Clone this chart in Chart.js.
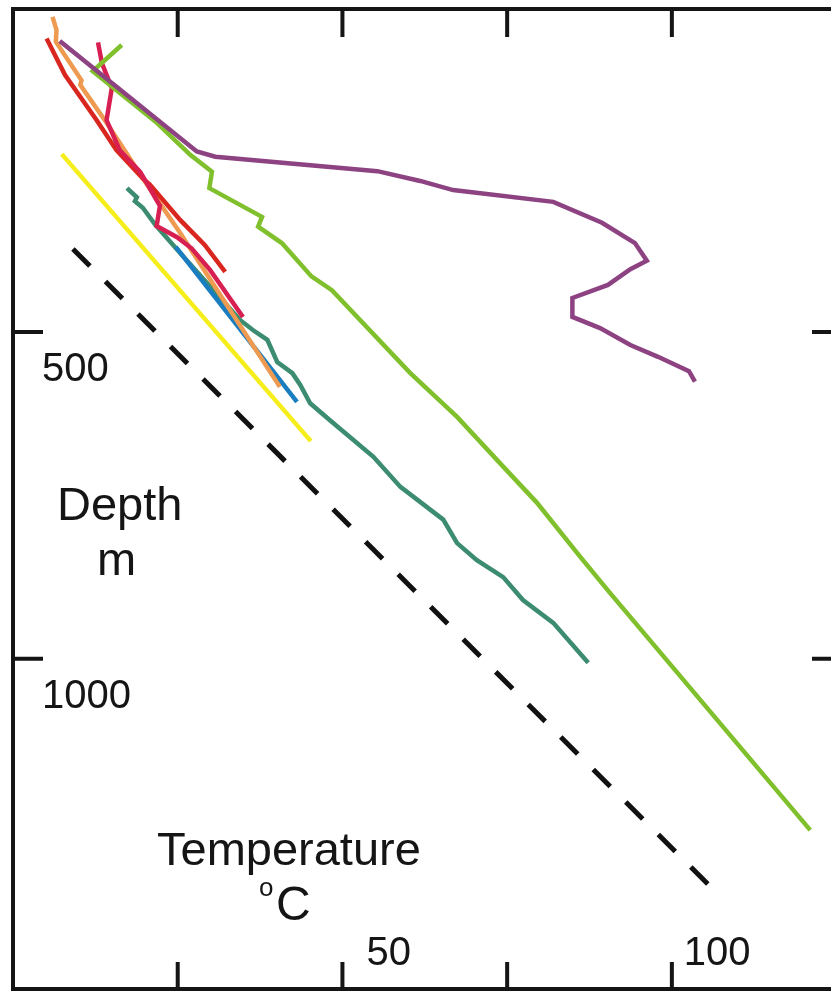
<!DOCTYPE html>
<html>
<head>
<meta charset="utf-8">
<script src="https://cdn.jsdelivr.net/npm/chart.js@4.4.1/dist/chart.umd.min.js"></script>
<style>
  html, body { margin: 0; padding: 0; background: #fff; overflow: hidden; }
  canvas { display: block; }
</style>
</head>
<body>
<canvas id="grafico" width="831" height="991"></canvas>
<script>
// PERFILES DE TEMPERATURA (°C) CONTRA PROFUNDIDAD (m)

const moradoT = [7.1, 27.9, 30.7, 55.3, 61.8, 66.8, 82.0, 89.4, 94.4, 96.2, 93.7, 90.3, 84.9, 84.9, 89.1, 93.7, 97.9, 102.6, 103.5]
const moradoD = [55, 224, 232, 254, 269, 283, 301, 333, 364, 391, 404, 428, 448, 477, 494, 520, 538, 560, 576]

const verdeT = [16.5, 12.1, 21.6, 26.9, 30.2, 29.8, 37.8, 37.2, 40.8, 45.3, 48.4, 60.3, 67.4, 74.4, 79.5, 86.1, 90.6, 121.0]
const verdeD = [61, 101, 178, 229, 255, 280, 324, 339, 364, 415, 436, 563, 630, 706, 761, 844, 899, 1262]

const carmesiT = [12.9, 13.5, 15.0, 14.2, 16.2, 19.3, 22.3, 21.8, 24.9, 27.1, 29.9, 34.9]
const carmesiD = [57, 89, 127, 176, 222, 255, 307, 338, 355, 372, 405, 477]

const rojoT = [5.1, 7.9, 12.7, 15.7, 19.7, 20.8, 25.4, 29.1, 32.2]
const rojoD = [51, 107, 176, 222, 265, 275, 329, 367, 408]

const naranjaT = [6.0, 6.6, 6.5, 10.4, 10.2, 14.2, 19.7, 25.4, 40.5]
const naranjaD = [18, 38, 56, 115, 122, 180, 265, 349, 584]

const azulT = [24.7, 43.1]
const azulD = [370, 607]

const turquesaT = [17.3, 18.8, 18.5, 19.7, 21.6, 25.0, 34.5, 36.4, 38.6, 40.1, 42.4, 43.6, 45.1, 48.1, 54.7, 58.8, 65.3, 67.4, 70.4, 74.4, 77.4, 82.0, 87.3]
const turquesaD = [280, 294, 300, 310, 336, 375, 482, 497, 512, 546, 563, 581, 609, 635, 691, 737, 787, 823, 849, 875, 910, 945, 1006]

const amarilloT = [7.4, 45.2]
const amarilloD = [228, 667]

const gradienteT = [9.1, 106.0]
const gradienteD = [373, 1350]

const ticksX = [25, 50, 75, 100]
const etiquetasX = ['', '50', '', '100']
const ticksY = [500, 1000]
const etiquetasY = ['500', '1000']

const puntos = (t, d) => t.map((x, i) => ({ x: x, y: d[i] }))

const serie = (t, d, color, extra) => Object.assign({
    data: puntos(t, d),
    borderColor: color,
    borderWidth: 4.5,
    showLine: true,
    pointRadius: 0,
    tension: 0,
    fill: false,
    clip: false
}, extra || {})

const fuente = '"Liberation Sans", Arial, sans-serif'

const marco = {
    id: 'marco',
    afterDraw(chart) {
        const ctx = chart.ctx
        const a = chart.chartArea
        const sx = chart.scales.x
        const sy = chart.scales.y
        ctx.save()
        ctx.strokeStyle = '#151515'
        ctx.lineWidth = 4
        ctx.beginPath()
        ctx.moveTo(a.left, chart.height)
        ctx.lineTo(a.left, a.top)
        ctx.lineTo(chart.width, a.top)
        ctx.moveTo(a.left - 2, a.bottom)
        ctx.lineTo(chart.width, a.bottom)
        ticksX.forEach(v => {
            const px = sx.getPixelForValue(v)
            ctx.moveTo(px, a.top)
            ctx.lineTo(px, a.top + 28)
            ctx.moveTo(px, a.bottom)
            ctx.lineTo(px, a.bottom - 27)
        })
        ticksY.forEach(v => {
            const py = sy.getPixelForValue(v)
            ctx.moveTo(a.left, py)
            ctx.lineTo(a.left + 30, py)
            ctx.moveTo(a.right - 18, py)
            ctx.lineTo(chart.width, py)
        })
        ctx.stroke()

        ctx.fillStyle = '#151515'
        ctx.textBaseline = 'alphabetic'
        ctx.textAlign = 'left'
        ctx.font = '40px ' + fuente
        const corrX = [0, 24, 0, 12]
        ticksX.forEach((v, i) => {
            if (etiquetasX[i]) ctx.fillText(etiquetasX[i], sx.getPixelForValue(v) + corrX[i], a.bottom - 24)
        })
        ticksY.forEach((v, i) => {
            ctx.fillText(etiquetasY[i], a.left + 29, sy.getPixelForValue(v) + 49)
        })

        ctx.font = '47px ' + fuente
        ctx.fillText('Depth', 57, 520)
        ctx.fillText('m', 97, 575)
        ctx.fillText('Temperature', 157, 865)
        ctx.font = '26px ' + fuente
        ctx.fillText('o', 259, 896)
        ctx.font = '48px ' + fuente
        ctx.fillText('C', 276, 920)
        ctx.restore()
    }
}

new Chart(document.getElementById('grafico').getContext('2d'), {
    type: 'scatter',
    data: {
        datasets: [
            serie(moradoT, moradoD, '#8d4282'),
            serie(verdeT, verdeD, '#80c02c'),
            serie(carmesiT, carmesiD, '#d81f52'),
            serie(rojoT, rojoD, '#d9261e'),
            serie(naranjaT, naranjaD, '#ee9a50'),
            serie(azulT, azulD, '#1a7dc0'),
            serie(turquesaT, turquesaD, '#3b8c70'),
            serie(gradienteT, gradienteD, '#111111', { borderDash: [24, 22], borderWidth: 5 }),
            serie(amarilloT, amarilloD, '#f5ee1a')
        ]
    },
    options: {
        responsive: false,
        animation: false,
        devicePixelRatio: 1,
        layout: { padding: { left: 13, top: 9, right: 1, bottom: 2 } },
        plugins: { legend: { display: false }, tooltip: { enabled: false } },
        scales: {
            x: { type: 'linear', min: 0, max: 124, display: false },
            y: { type: 'linear', min: 6, max: 1505, reverse: true, display: false }
        }
    },
    plugins: [marco]
})
</script>
</body>
</html>
